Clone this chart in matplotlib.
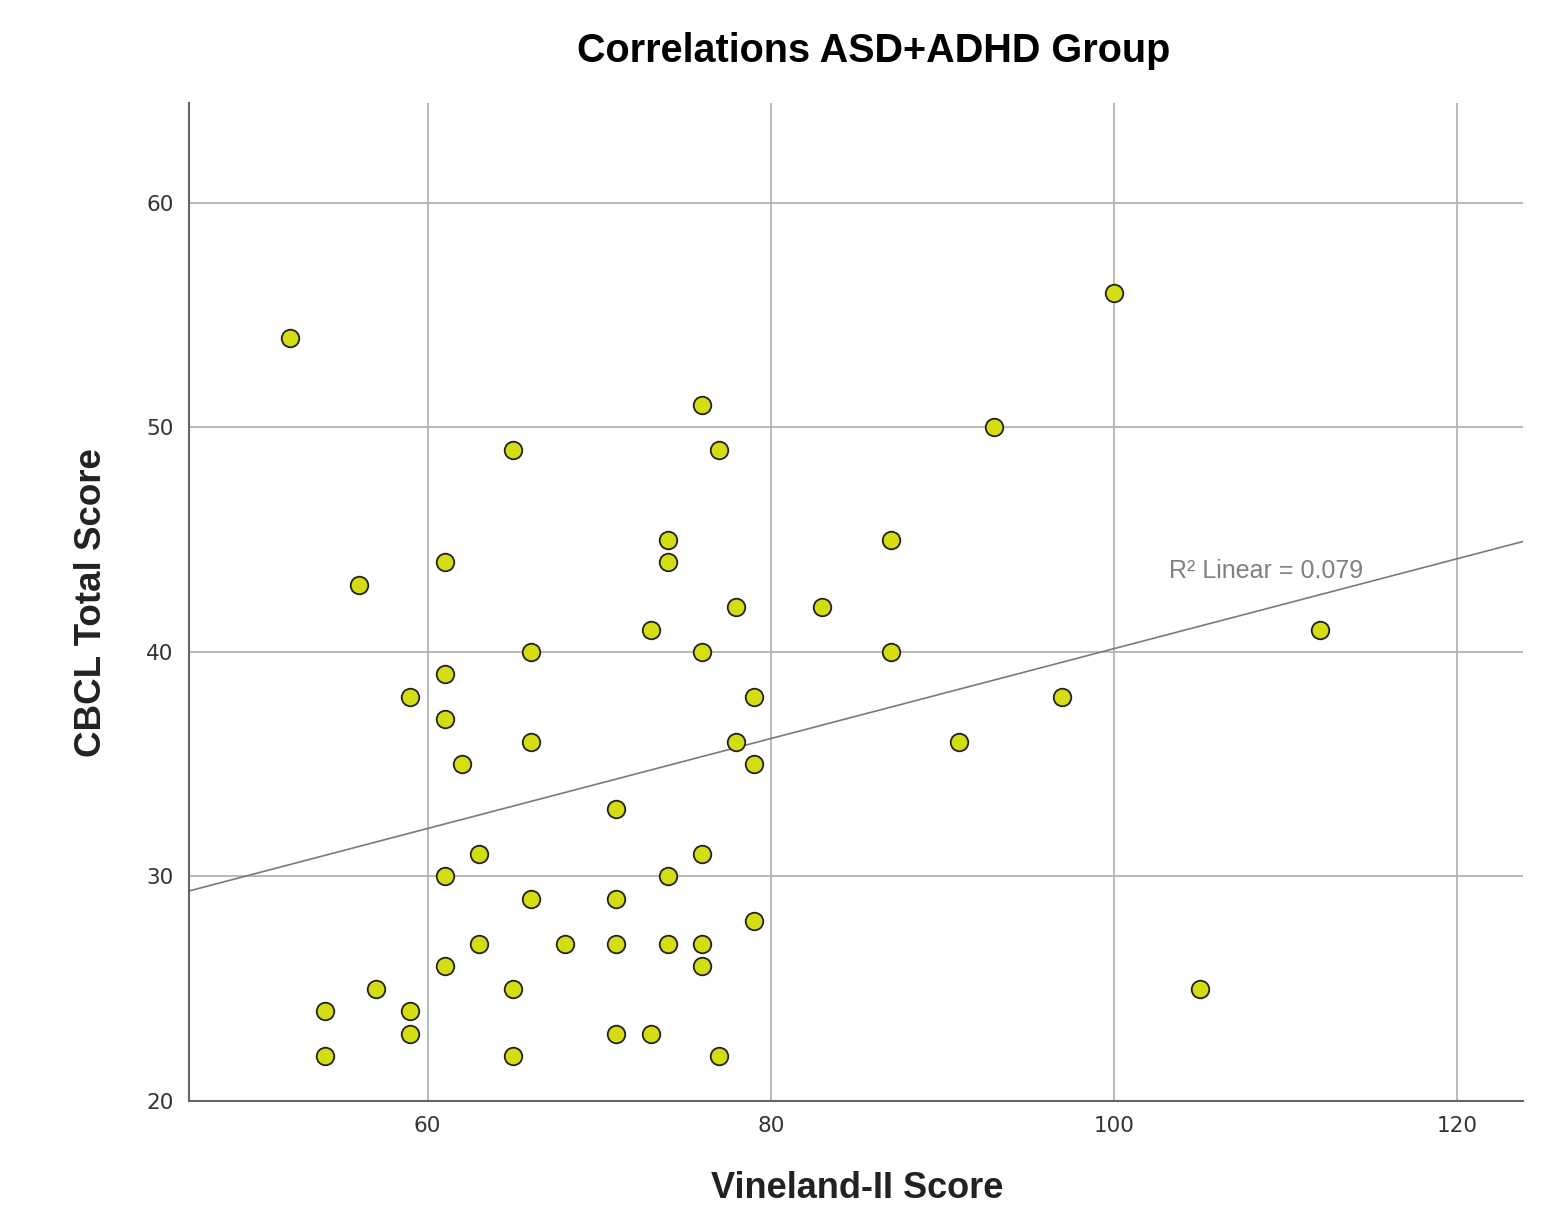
import numpy as np
import matplotlib
matplotlib.use("Agg")
import matplotlib.pyplot as plt

vineland = [52, 100, 56, 76, 65, 77, 93, 74, 74, 87, 61, 78, 83, 73, 112, 66, 76, 87,
            61, 59, 79, 97, 61, 66, 78, 91, 62, 79, 71, 63, 76, 61, 74, 66, 71, 79,
            63, 68, 71, 74, 76, 61, 76, 57, 65, 105, 54, 59, 59, 71, 73, 54, 65, 77]
cbcl = [54, 56, 43, 51, 49, 49, 50, 45, 44, 45, 44, 42, 42, 41, 41, 40, 40, 40,
        39, 38, 38, 38, 37, 36, 36, 36, 35, 35, 33, 31, 31, 30, 30, 29, 29, 28,
        27, 27, 27, 27, 27, 26, 26, 25, 25, 25, 24, 24, 23, 23, 23, 22, 22, 22]
x_ticks = [60, 80, 100, 120]
y_ticks = [20, 30, 40, 50, 60]
r2_label = "R\u00b2 Linear = 0.079"

fig = plt.figure(figsize=(15.51, 12.05), dpi=100)
ax = fig.add_axes([0.1219, 0.0863, 0.8601, 0.8282])

x = np.array(vineland, dtype=float)
y = np.array(cbcl, dtype=float)
slope, intercept = np.polyfit(x, y, 1)

xmin, xmax = 46.1, 123.85
ax.set_xlim(xmin, xmax)
ax.set_ylim(20, 64.45)

ax.grid(True, color='#b4b4b4', linewidth=1.3)
ax.set_axisbelow(True)

xs = np.array([xmin, xmax])
ax.plot(xs, intercept + slope * xs, color='#7a7a7a', linewidth=1.2, zorder=2)

ax.scatter(x, y, s=160, c='#d4dc12', edgecolors='#222222', linewidths=1.3, zorder=3)

ax.text(103.2, 43.6, r2_label, fontsize=18, color='#808080',
        family='Liberation Sans', ha='left', va='center')

ax.set_xticks(x_ticks)
ax.set_yticks(y_ticks)
ax.tick_params(length=0, labelsize=15.5, colors='#333333')
ax.tick_params(axis='x', pad=11)
ax.tick_params(axis='y', pad=11)
for lab in ax.get_xticklabels() + ax.get_yticklabels():
    lab.set_family('DejaVu Sans')
for s in ['top', 'right']:
    ax.spines[s].set_visible(False)
for s in ['left', 'bottom']:
    ax.spines[s].set_color('#666666')
    ax.spines[s].set_linewidth(1.5)

fig.text(0.563, 0.958, "Correlations ASD+ADHD Group", fontsize=28.5, fontweight='bold',
         family='Liberation Sans', ha='center', va='center')
fig.text(0.5525, 0.006, "Vineland-II Score", fontsize=26, fontweight='bold',
         family='Liberation Sans', ha='center', va='baseline', color='#222222')
fig.text(0.059, 0.5, "CBCL Total Score", fontsize=26.5, fontweight='bold',
         family='Liberation Sans', ha='center', va='center', rotation=90, color='#222222')

fig.savefig("out.png", dpi=100)
